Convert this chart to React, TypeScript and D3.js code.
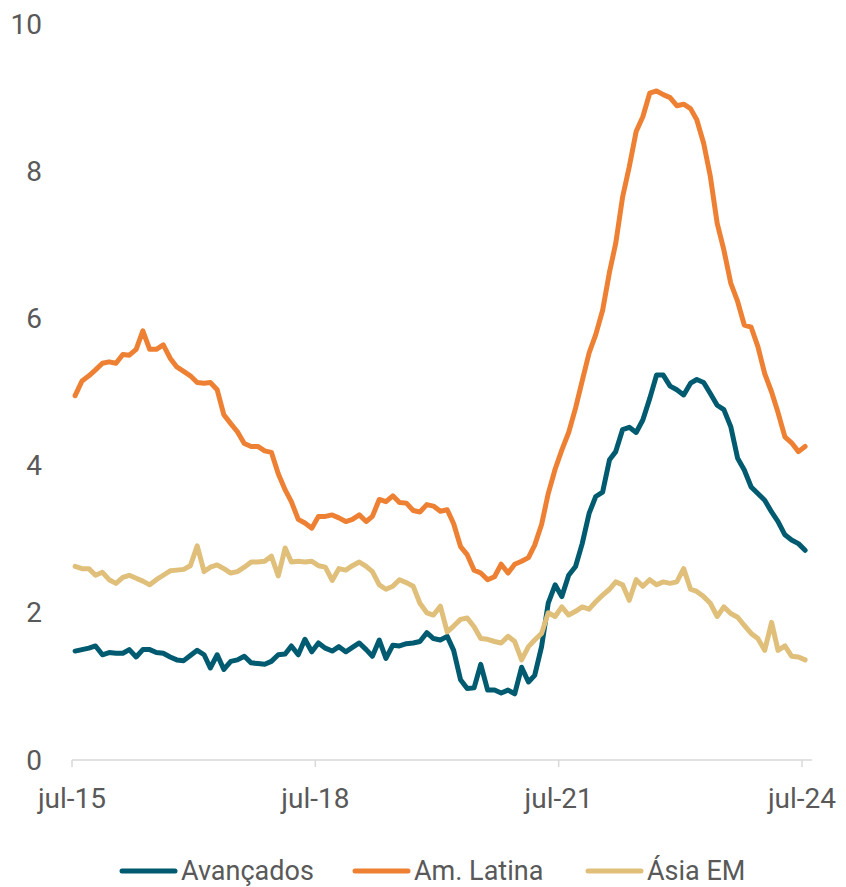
import React from 'react';
import * as d3 from 'd3';

const seriesNames = ['Avançados', 'Am. Latina', 'Ásia EM'];
const seriesColors = ['#005B70', '#EE8033', '#E0BF7A'];

const avancados = [
  1.48, 1.50, 1.52, 1.55, 1.43, 1.46, 1.45, 1.45, 1.50, 1.40, 1.50, 1.50,
  1.46, 1.45, 1.40, 1.36, 1.35, 1.42, 1.49, 1.43, 1.25, 1.43, 1.23, 1.34,
  1.36, 1.41, 1.32, 1.31, 1.30, 1.34, 1.43, 1.44, 1.55, 1.43, 1.64, 1.47,
  1.59, 1.52, 1.48, 1.54, 1.47, 1.53, 1.59, 1.50, 1.41, 1.63, 1.38, 1.56,
  1.55, 1.58, 1.59, 1.61, 1.73, 1.65, 1.63, 1.68, 1.49, 1.09, 0.97, 0.98,
  1.30, 0.95, 0.95, 0.91, 0.95, 0.90, 1.26, 1.06, 1.15, 1.54, 2.13, 2.38,
  2.22, 2.51, 2.63, 2.94, 3.35, 3.58, 3.64, 4.08, 4.19, 4.49, 4.52, 4.45,
  4.62, 4.91, 5.23, 5.23, 5.08, 5.03, 4.96, 5.12, 5.17, 5.13, 4.98, 4.82,
  4.76, 4.53, 4.10, 3.94, 3.71, 3.62, 3.53, 3.37, 3.24, 3.06, 2.99, 2.94,
  2.85,
];

const amLatina = [
  4.95, 5.15, 5.22, 5.30, 5.39, 5.41, 5.39, 5.51, 5.50, 5.58, 5.83, 5.58,
  5.58, 5.64, 5.46, 5.34, 5.28, 5.22, 5.13, 5.12, 5.13, 5.03, 4.69, 4.57,
  4.46, 4.30, 4.26, 4.26, 4.20, 4.18, 3.89, 3.67, 3.51, 3.27, 3.22, 3.15,
  3.31, 3.31, 3.33, 3.29, 3.24, 3.27, 3.33, 3.24, 3.31, 3.54, 3.51, 3.59,
  3.50, 3.49, 3.39, 3.37, 3.47, 3.45, 3.38, 3.40, 3.21, 2.90, 2.79, 2.58,
  2.54, 2.45, 2.49, 2.66, 2.54, 2.66, 2.70, 2.75, 2.92, 3.20, 3.62, 3.95,
  4.21, 4.45, 4.78, 5.15, 5.53, 5.78, 6.11, 6.63, 7.02, 7.65, 8.06, 8.54,
  8.74, 9.06, 9.09, 9.04, 9.00, 8.89, 8.91, 8.85, 8.70, 8.38, 7.93, 7.29,
  6.93, 6.48, 6.23, 5.91, 5.88, 5.62, 5.25, 5.00, 4.72, 4.39, 4.31, 4.19,
  4.26,
];

const asiaEM = [
  2.63, 2.60, 2.60, 2.51, 2.55, 2.45, 2.40, 2.48, 2.51, 2.47, 2.43, 2.38,
  2.45, 2.51, 2.57, 2.58, 2.59, 2.64, 2.91, 2.56, 2.62, 2.65, 2.60, 2.54,
  2.56, 2.62, 2.69, 2.69, 2.70, 2.77, 2.50, 2.88, 2.69, 2.70, 2.69, 2.70,
  2.64, 2.62, 2.44, 2.60, 2.58, 2.64, 2.69, 2.63, 2.56, 2.38, 2.32, 2.36,
  2.45, 2.41, 2.36, 2.13, 2.00, 1.97, 2.09, 1.74, 1.82, 1.91, 1.93, 1.81,
  1.65, 1.64, 1.61, 1.59, 1.68, 1.61, 1.36, 1.54, 1.63, 1.72, 2.00, 1.95,
  2.08, 1.97, 2.02, 2.08, 2.05, 2.15, 2.24, 2.32, 2.42, 2.38, 2.17, 2.45,
  2.36, 2.45, 2.38, 2.42, 2.40, 2.42, 2.60, 2.32, 2.29, 2.22, 2.13, 1.95,
  2.08, 1.99, 1.94, 1.83, 1.72, 1.65, 1.49, 1.87, 1.49, 1.55, 1.41, 1.40,
  1.36,
];

const yTicks = [0, 2, 4, 6, 8, 10];
const xTickLabels = ['jul-15', 'jul-18', 'jul-21', 'jul-24'];
const xTickYears = [2015, 2018, 2021, 2024];

const W = 846;
const H = 887;
const FONT = 'Roboto, "Noto Sans", sans-serif';
const TEXT = '#595959';

export default function App() {
  const dates = avancados.map((_, i) => new Date(2015, 6 + i, 15));
  const x = d3
    .scaleTime()
    .domain([new Date(2015, 6, 1), new Date(2024, 7, 15)])
    .range([72, 812]);
  const y = d3.scaleLinear().domain([0, 10]).range([760, 24]);

  const all = [avancados, amLatina, asiaEM];
  const line = d3
    .line<number>()
    .x((_, i) => x(dates[i]))
    .y((d) => y(d));

  const legendX = [122, 355, 588];

  return (
    <svg
      width={W}
      height={H}
      style={{ position: 'absolute', left: 0, top: 0, background: '#fff' }}
      fontFamily={FONT}
    >
      <rect x={0} y={0} width={W} height={H} fill="#fff" />
      {yTicks.map((t) => (
        <text
          key={t}
          x={42}
          y={y(t)}
          textAnchor="end"
          dominantBaseline="central"
          fontSize={28}
          fill={TEXT}
        >
          {t}
        </text>
      ))}
      <line x1={x.range()[0]} x2={x.range()[1]} y1={y(0)} y2={y(0)} stroke="#D9D9D9" strokeWidth={1.5} />
      {xTickYears.map((yr, k) => {
        const px = x(new Date(yr, 6, 1));
        return (
          <g key={yr}>
            <line x1={px} x2={px} y1={y(0)} y2={y(0) + 7} stroke="#D9D9D9" strokeWidth={1.5} />
            <text x={px} y={808} textAnchor="middle" fontSize={28} fill={TEXT}>
              {xTickLabels[k]}
            </text>
          </g>
        );
      })}
      {all.map((s, k) => (
        <path
          key={k}
          d={line(s) || ''}
          fill="none"
          stroke={seriesColors[k]}
          strokeWidth={5}
          strokeLinejoin="round"
          strokeLinecap="round"
        />
      ))}
      {seriesNames.map((n, k) => (
        <g key={n}>
          <line
            x1={legendX[k]}
            x2={legendX[k] + 53}
            y1={871}
            y2={871}
            stroke={seriesColors[k]}
            strokeWidth={5}
            strokeLinecap="round"
          />
          <text x={legendX[k] + 59} y={880} fontSize={27} fill={TEXT}>
            {n}
          </text>
        </g>
      ))}
    </svg>
  );
}
